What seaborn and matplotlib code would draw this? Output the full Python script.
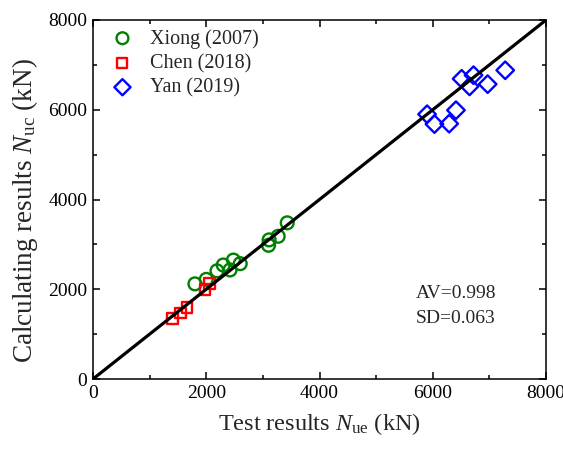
import numpy as np
import pandas as pd
import matplotlib
matplotlib.use("Agg")
import matplotlib.pyplot as plt
import seaborn as sns
from matplotlib.ticker import MultipleLocator

# Data
xiong_test = [1800, 2000, 2190, 2300, 2420, 2480, 2600, 3100, 3110, 3270, 3430]
xiong_calc = [2120, 2220, 2410, 2540, 2430, 2650, 2570, 2980, 3100, 3180, 3480]
chen_test = [1400, 1540, 1660, 1980, 2060]
chen_calc = [1350, 1470, 1600, 2000, 2120]
yan_test = [5900, 6030, 6290, 6410, 6510, 6650, 6720, 6970, 7280]
yan_calc = [5900, 5680, 5690, 5990, 6690, 6520, 6770, 6570, 6880]
series_names = ["Xiong (2007)", "Chen (2018)", "Yan (2019)"]
line_x = [0, 8000]
stats_text = ["AV=0.998", "SD=0.063"]

df = pd.concat([
    pd.DataFrame({"test": xiong_test, "calc": xiong_calc, "src": series_names[0]}),
    pd.DataFrame({"test": chen_test, "calc": chen_calc, "src": series_names[1]}),
    pd.DataFrame({"test": yan_test, "calc": yan_calc, "src": series_names[2]}),
])

sns.set_style("ticks")
plt.rcParams["font.family"] = ["Liberation Serif", "DejaVu Serif"]
plt.rcParams["mathtext.fontset"] = "custom"
plt.rcParams["mathtext.rm"] = "Liberation Serif"
plt.rcParams["mathtext.it"] = "Liberation Serif:italic"

fig = plt.figure(figsize=(5.63, 4.49), dpi=100)
ax = fig.add_axes([93/563, 1-379/449, (546-93)/563, (379-20)/449])

styles = {
    series_names[0]: dict(marker="o", color="#008000", s=85),
    series_names[1]: dict(marker="s", color="#ff0000", s=60),
    series_names[2]: dict(marker="D", color="#0000ff", s=80),
}
handles = []
for name in series_names:
    st = styles[name]
    sub = df[df["src"] == name]
    sns.scatterplot(data=sub, x="test", y="calc", ax=ax, marker=st["marker"],
                    facecolors="none", edgecolor=st["color"], linewidth=1.7,
                    s=st["s"], zorder=2, legend=False)
    h = ax.scatter([], [], marker=st["marker"], facecolors="none",
                   edgecolors=st["color"], linewidths=1.7, s=st["s"] * 0.85)
    handles.append(h)

sns.lineplot(x=line_x, y=line_x, ax=ax, color="black", linewidth=2.3, zorder=3)

ax.set_xlim(0, 8000)
ax.set_ylim(0, 8000)
ax.xaxis.set_major_locator(MultipleLocator(2000))
ax.yaxis.set_major_locator(MultipleLocator(2000))
ax.xaxis.set_minor_locator(MultipleLocator(1000))
ax.yaxis.set_minor_locator(MultipleLocator(1000))
ax.tick_params(which="both", direction="in", top=True, right=True, width=1.1,
               labelsize=14, colors="black")
ax.tick_params(which="major", length=5, pad=4)
ax.tick_params(which="minor", length=3)
for sp in ax.spines.values():
    sp.set_linewidth(1.1)
    sp.set_color("black")

ax.set_xlabel(r"Test results $\mathit{N}_{\rm ue}$ (kN)", fontsize=17.5, labelpad=7)
ax.set_ylabel(r"Calculating results $\mathit{N}_{\rm uc}$ (kN)", fontsize=19.5)
ax.yaxis.set_label_coords(-0.118, 0.47)

ax.legend(handles, series_names, loc="upper left", frameon=False, fontsize=14.5,
          handletextpad=0.65, borderaxespad=0.25, labelspacing=0.26,
          handlelength=1.4, bbox_to_anchor=(0.005, 1.012))

ax.text(0.712, 0.204, "\n".join(stats_text), transform=ax.transAxes,
        fontsize=14, va="center", ha="left", linespacing=1.65)

fig.savefig("out.png", dpi=100)
